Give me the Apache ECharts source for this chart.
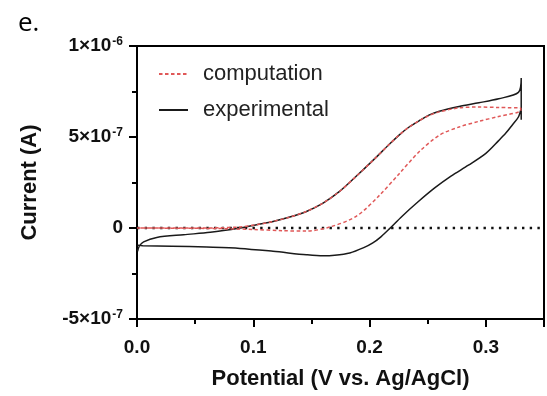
<!DOCTYPE html>
<html>
<head>
<meta charset="utf-8">
<script src="https://cdn.jsdelivr.net/npm/echarts@6/dist/echarts.min.js"></script>
<style>
html,body{margin:0;padding:0;background:#fff;}
#chart{width:547px;height:396px;}
</style>
</head>
<body>
<div id="chart"></div>
<script>
// Potential (V) / Current (A) pairs
const experimental = [
  [0.0005,-1.28e-7],[0.002,-1.0e-7],[0.0057,-0.76e-7],[0.017,-0.52e-7],[0.04,-0.37e-7],
  [0.063,-0.24e-7],[0.0885,0.0e-7],[0.1028,0.18e-7],[0.117,0.36e-7],[0.1314,0.6e-7],
  [0.1457,0.91e-7],[0.16,1.37e-7],[0.1742,2.01e-7],[0.1885,2.84e-7],[0.2027,3.7e-7],
  [0.217,4.6e-7],[0.2256,5.12e-7],[0.234,5.55e-7],[0.2428,5.9e-7],[0.251,6.2e-7],
  [0.26,6.42e-7],[0.277,6.68e-7],[0.294,6.88e-7],[0.311,7.1e-7],[0.328,7.45e-7],
  [0.3304,8.24e-7],[0.3304,5.95e-7],[0.3304,6.6e-7],
  [0.328,6.1e-7],[0.3226,5.65e-7],[0.317,5.2e-7],[0.311,4.8e-7],[0.30,4.1e-7],
  [0.285,3.45e-7],[0.27,2.85e-7],[0.256,2.2e-7],[0.241,1.4e-7],[0.228,0.65e-7],
  [0.217,-0.05e-7],[0.21,-0.47e-7],[0.2028,-0.82e-7],[0.195,-1.08e-7],[0.183,-1.37e-7],
  [0.17,-1.5e-7],[0.16,-1.53e-7],
  [0.1457,-1.47e-7],[0.117,-1.28e-7],[0.0886,-1.12e-7],[0.06,-1.05e-7],[0.03,-1.0e-7],
  [0.005,-0.97e-7],[0.0005,-0.95e-7]
];
const computation = [
  [0.0,0],[0.04,0.0],[0.07,0.01e-7],[0.0885,0.06e-7],[0.1028,0.18e-7],[0.117,0.36e-7],
  [0.1314,0.6e-7],[0.1457,0.91e-7],[0.16,1.37e-7],[0.1742,2.01e-7],[0.1885,2.84e-7],
  [0.2027,3.7e-7],[0.217,4.6e-7],[0.2256,5.12e-7],[0.234,5.55e-7],[0.2428,5.9e-7],
  [0.251,6.18e-7],[0.26,6.38e-7],[0.277,6.6e-7],[0.294,6.65e-7],[0.311,6.62e-7],[0.33,6.58e-7],
  [0.33,6.45e-7],[0.311,6.13e-7],[0.294,5.86e-7],[0.277,5.55e-7],[0.26,5.1e-7],
  [0.2428,4.2e-7],[0.2257,3.0e-7],[0.2086,1.8e-7],[0.1885,0.64e-7],[0.1656,0.05e-7],
  [0.1457,-0.17e-7],[0.125,-0.15e-7],[0.1,-0.08e-7],[0.07,-0.03e-7],[0.03,-0.01e-7],[0.0,0]
];
const zeroLine = [[0,0],[0.35,0]];
const xTicks = [0.0, 0.1, 0.2, 0.3];
const yTicks = [-5e-7, 0, 5e-7, 1e-6];

const chart = echarts.init(document.getElementById('chart'), null, {renderer:'canvas'});
const FONT = 'Liberation Sans, Arial, sans-serif';

function sciLabel(v){
  if (Math.abs(v) < 1e-12) return '0';
  const e = Math.floor(Math.log10(Math.abs(v)) + 1e-9);
  const m = Math.round(v / Math.pow(10, e));
  return m + '×10{sup|' + e + '}';
}

chart.setOption({
  animation:false,
  backgroundColor:'#fff',
  graphic:[{type:'text', left:18, top:11, style:{text:'e.', font:'26px "Open Sans", sans-serif', fill:'#000'}}],
  grid:{left:137, right:2, top:46, bottom:77, show:true, borderColor:'#000', borderWidth:2, containLabel:false},
  legend:{
    data:['computation','experimental'], orient:'vertical', left:153, top:57,
    itemWidth:29, itemHeight:14, itemGap:12,
    itemStyle:{opacity:0},
    textStyle:{fontFamily:FONT, fontSize:22, color:'#222', lineHeight:24, padding:[0,0,0,10]}
  },
  xAxis:[{
    type:'value', min:0, max:0.35, interval:0.1, position:'bottom',
    axisLine:{show:true, onZero:false, lineStyle:{color:'#000', width:2}},
    axisTick:{show:true, length:8, lineStyle:{color:'#000', width:2}},
    splitLine:{show:false},
    axisLabel:{fontFamily:FONT, fontSize:19, fontWeight:'bold', color:'#111', margin:19,
      formatter:v => xTicks.some(t => Math.abs(t - v) < 1e-9) ? v.toFixed(1) : ''},
    name:'Potential (V vs. Ag/AgCl)', nameLocation:'middle', nameGap:49,
    nameTextStyle:{fontFamily:FONT, fontSize:22, fontWeight:'bold', color:'#111'}
  },{
    type:'value', min:0, max:0.35, interval:0.05, position:'bottom', gridIndex:0,
    axisLine:{show:false, onZero:false}, axisLabel:{show:false}, splitLine:{show:false},
    axisTick:{show:true, length:5, lineStyle:{color:'#000', width:2}}
  }],
  yAxis:{
    type:'value', min:-5e-7, max:1e-6, interval:5e-7,
    axisLine:{show:true, onZero:false, lineStyle:{color:'#000', width:2}},
    axisTick:{show:true, length:8, lineStyle:{color:'#000', width:2}},
    minorTick:{show:true, splitNumber:2, length:5, lineStyle:{color:'#000', width:2}},
    splitLine:{show:false}, minorSplitLine:{show:false},
    axisLabel:{fontFamily:FONT, fontSize:19, fontWeight:'bold', color:'#111', margin:14,
      formatter:v => sciLabel(v),
      rich:{sup:{fontFamily:FONT, fontSize:12, fontWeight:'bold', color:'#111', padding:[0,0,9,1]}}},
    name:'Current (A)', nameLocation:'middle', nameGap:96,
    nameTextStyle:{fontFamily:FONT, fontSize:22, fontWeight:'bold', color:'#111'}
  },
  series:[
    {name:'zero', type:'line', data:zeroLine, symbol:'none', silent:true, z:1,
      lineStyle:{color:'#111', width:2.4, type:[2.4,5.3], cap:'butt'}},
    {name:'experimental', type:'line', data:experimental, symbol:'none', smooth:0.3, z:2,
      itemStyle:{color:'#1a1a1a'}, lineStyle:{color:'#1a1a1a', width:1.5}},
    {name:'computation', type:'line', data:computation, symbol:'none', smooth:0.3, z:3,
      itemStyle:{color:'#e05858'}, lineStyle:{color:'#e05858', width:1.5, type:[3.5,2.5]}}
  ]
});
</script>
</body>
</html>
